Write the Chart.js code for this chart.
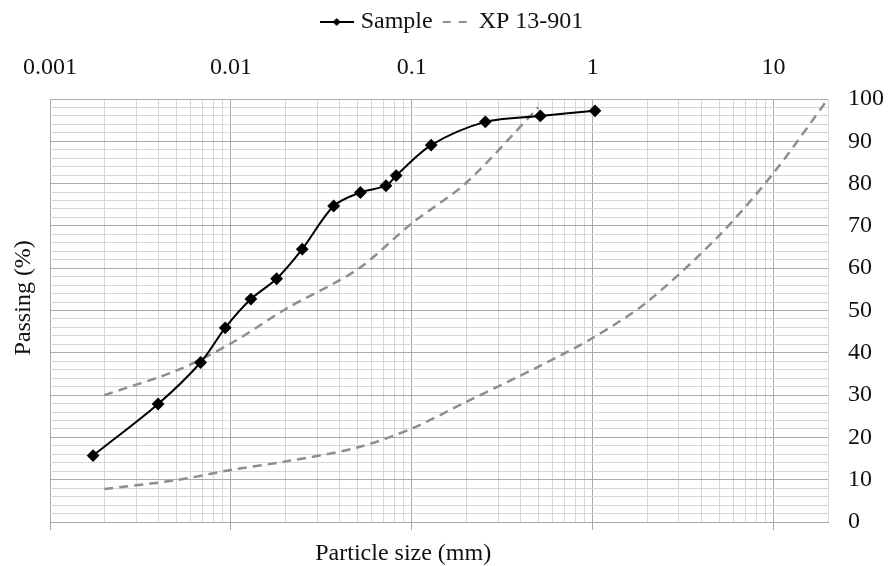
<!DOCTYPE html>
<html>
<head>
<meta charset="utf-8">
<script src="https://cdn.jsdelivr.net/npm/chart.js@4.4.1/dist/chart.umd.min.js"></script>
<style>
  html, body { margin: 0; padding: 0; background: #fff; }
  #wrap { width: 888px; height: 566px; }
</style>
</head>
<body>
<div id="wrap"><canvas id="grafico"></canvas></div>
<script>
// Curva granulométrica da amostra
const sampleSize = [0.00173, 0.00396, 0.0068, 0.0093, 0.0129, 0.0179, 0.0248, 0.037, 0.052, 0.072, 0.082, 0.128, 0.255, 0.514, 1.03];
const samplePassing = [15.7, 27.9, 37.7, 45.9, 52.7, 57.5, 64.5, 74.7, 77.9, 79.5, 81.9, 89.1, 94.6, 96.0, 97.2];

// Fuso XP 13-901 (limite superior e inferior)
const upperSize = [0.002, 0.005, 0.01, 0.02, 0.05, 0.1, 0.2, 0.5];
const upperPassing = [30, 35.8, 42.2, 50.3, 59.7, 70.6, 80.2, 98];
const lowerSize = [0.002, 0.005, 0.01, 0.02, 0.05, 0.1, 0.2, 0.5, 1, 2, 5, 10, 20];
const lowerPassing = [7.8, 9.9, 12.3, 14.3, 17.6, 22.1, 28.4, 36.7, 43.5, 52, 67.7, 82.5, 100];

// Eixos
const decades = [0.001, 0.01, 0.1, 1, 10];
const decadeLabels = ['0.001', '0.01', '0.1', '1', '10'];
const minorSteps = [2, 3, 4, 5, 6, 7, 8, 9];
const xMin = 0.001, xMax = 20;
const yMajor = [0, 10, 20, 30, 40, 50, 60, 70, 80, 90, 100];

const xTitle = 'Particle size (mm)';
const yTitle = 'Passing (%)';

const FONT = "'Liberation Serif', 'Times New Roman', serif";
const gridMinor = '#d6d6d6';
const gridMajor = '#ababab';
const dashGrey = '#8e8e8e';

// posições das linhas de grade verticais
const gridX = [];
decades.forEach(d => {
    gridX.push(d);
    minorSteps.forEach(m => { if (d * m <= xMax + 1e-9) gridX.push(d * m); });
});

function pontos(xs, ys) {
    return xs.map((x, i) => ({ x: x, y: ys[i] }));
}

// ícones da legenda
function iconeSample() {
    const c = document.createElement('canvas');
    c.width = 34; c.height = 12;
    const g = c.getContext('2d');
    g.strokeStyle = '#000'; g.lineWidth = 2;
    g.beginPath(); g.moveTo(0, 6); g.lineTo(34, 6); g.stroke();
    g.fillStyle = '#000';
    g.beginPath(); g.moveTo(17, 2); g.lineTo(21, 6); g.lineTo(17, 10); g.lineTo(13, 6); g.closePath(); g.fill();
    return c;
}
function iconeXP() {
    const c = document.createElement('canvas');
    c.width = 34; c.height = 12;
    const g = c.getContext('2d');
    g.strokeStyle = dashGrey; g.lineWidth = 2;
    g.beginPath(); g.moveTo(5, 6); g.lineTo(13, 6); g.moveTo(21, 6); g.lineTo(29, 6); g.stroke();
    return c;
}

const axisTitles = {
    id: 'axisTitles',
    afterDraw(chart) {
        const { ctx, chartArea } = chart;
        ctx.save();
        ctx.font = '24px ' + FONT;
        ctx.fillStyle = '#111';
        ctx.textAlign = 'center';
        ctx.textBaseline = 'middle';
        ctx.fillText(xTitle, chartArea.left + (chartArea.right - chartArea.left) * 0.454, 554);
        ctx.translate(24, chartArea.top + (chartArea.bottom - chartArea.top) * 0.47);
        ctx.rotate(-Math.PI / 2);
        ctx.fillText(yTitle, 0, 0);
        ctx.restore();
    }
};

const ctx = document.getElementById('grafico').getContext('2d');
new Chart(ctx, {
    type: 'scatter',
    data: {
        datasets: [{
            label: 'Sample',
            data: pontos(sampleSize, samplePassing),
            showLine: true,
            borderColor: '#000',
            backgroundColor: '#000',
            borderWidth: 2,
            pointStyle: 'rectRot',
            pointRadius: 5,
            pointHoverRadius: 5,
            tension: 0.3
        }, {
            label: 'XP 13-901',
            data: pontos(upperSize, upperPassing),
            showLine: true,
            borderColor: dashGrey,
            borderWidth: 2.5,
            borderDash: [9, 6],
            pointRadius: 0,
            tension: 0.3
        }, {
            label: 'XP 13-901 inf',
            data: pontos(lowerSize, lowerPassing),
            showLine: true,
            borderColor: dashGrey,
            borderWidth: 2.5,
            borderDash: [9, 6],
            pointRadius: 0,
            tension: 0.3
        }]
    },
    options: {
        responsive: true,
        maintainAspectRatio: false,
        animation: false,
        layout: { padding: { left: 20, top: 0, right: 0, bottom: 0 } },
        plugins: {
            tooltip: { enabled: false },
            legend: {
                position: 'top',
                labels: {
                    color: '#111',
                    font: { family: FONT, size: 24 },
                    padding: 10,
                    usePointStyle: true,
                    pointStyleWidth: 24,
                    generateLabels: () => [
                        { text: 'Sample', pointStyle: iconeSample(), datasetIndex: 0, fontColor: '#111', lineWidth: 0, strokeStyle: 'transparent', fillStyle: 'transparent' },
                        { text: 'XP 13-901', pointStyle: iconeXP(), datasetIndex: 1, fontColor: '#111', lineWidth: 0, strokeStyle: 'transparent', fillStyle: 'transparent' }
                    ]
                }
            }
        },
        scales: {
            x: {
                type: 'logarithmic',
                position: 'bottom',
                min: xMin,
                max: xMax,
                afterBuildTicks: s => { s.ticks = gridX.map(v => ({ value: v })); },
                afterFit: s => { s.height = 44; },
                ticks: { display: false },
                grid: {
                    color: c => decades.includes(c.tick.value) ? gridMajor : gridMinor,
                    tickColor: c => decades.includes(c.tick.value) ? gridMajor : 'transparent',
                    tickLength: 8,
                    lineWidth: 1
                },
                border: { color: gridMajor }
            },
            x2: {
                type: 'logarithmic',
                position: 'top',
                min: xMin,
                max: xMax,
                afterBuildTicks: s => { s.ticks = decades.map(v => ({ value: v })); },
                afterFit: s => { s.height = 55; },
                grid: { display: false },
                border: { display: false },
                ticks: {
                    autoSkip: false,
                    maxRotation: 0,
                    padding: 9,
                    color: '#111',
                    font: { family: FONT, size: 24 },
                    callback: v => {
                        const i = decades.indexOf(v);
                        return i >= 0 ? decadeLabels[i] : '';
                    }
                }
            },
            y: {
                position: 'right',
                min: 0,
                max: 100,
                afterFit: s => { s.width = 60; },
                ticks: {
                    stepSize: 2,
                    autoSkip: false,
                    padding: 20,
                    color: '#111',
                    font: { family: FONT, size: 24 },
                    callback: v => yMajor.includes(v) ? String(v) : ''
                },
                grid: {
                    color: c => yMajor.includes(c.tick.value) ? gridMajor : gridMinor,
                    drawTicks: false,
                    lineWidth: 1
                },
                border: { display: false }
            },
            yLeft: {
                position: 'left',
                afterFit: s => { s.width = 30; },
                ticks: { display: false },
                grid: { display: false },
                border: { display: false }
            }
        }
    },
    plugins: [axisTitles]
});
</script>
</body>
</html>
